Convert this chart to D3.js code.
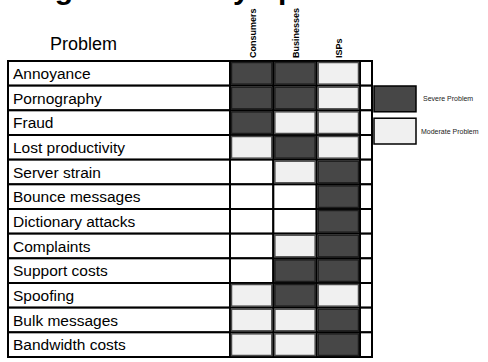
<!DOCTYPE html>
<html>
<head>
<meta charset="utf-8">
<script src="https://cdn.jsdelivr.net/npm/d3@7"></script>
<style>
  html, body { margin: 0; padding: 0; background: #fff; }
  svg { display: block; }
</style>
</head>
<body>
<svg id="chart" width="488" height="362"></svg>
<script>
// Problems caused by spam, rated for each affected group
const problems = [
  "Annoyance", "Pornography", "Fraud", "Lost productivity", "Server strain",
  "Bounce messages", "Dictionary attacks", "Complaints", "Support costs",
  "Spoofing", "Bulk messages", "Bandwidth costs"
];
const groups = ["Consumers", "Businesses", "ISPs"];
const consumerLevels = ["Severe", "Severe", "Severe", "Moderate", "", "", "", "", "", "Moderate", "Moderate", "Moderate"];
const businessLevels = ["Severe", "Severe", "Moderate", "Severe", "Moderate", "", "", "Moderate", "Severe", "Severe", "Moderate", "Moderate"];
const ispLevels = ["Moderate", "Moderate", "Moderate", "Moderate", "Severe", "Severe", "Severe", "Severe", "Severe", "Moderate", "Severe", "Severe"];
const levels = ["Severe", "Moderate"];
const legendLabels = ["Severe Problem", "Moderate Problem"];
const titleText = "Damage Caused by Spam";
const columnTitle = "Problem";

const levelsByGroup = { Consumers: consumerLevels, Businesses: businessLevels, ISPs: ispLevels };
const cells = [];
groups.forEach(g => problems.forEach((p, i) => cells.push({ group: g, problem: p, level: levelsByGroup[g][i] })));

const font = "'Liberation Sans', Arial, sans-serif";
const svg = d3.select("#chart");

const fill = d3.scaleOrdinal().domain(levels).range(["#474747", "#f0f0f0"]);
const edge = d3.scaleOrdinal().domain(levels).range(["#1c1c1c", "#4a4a4a"]);

const y = d3.scaleBand().domain(problems).range([61, 357]);
const x = d3.scaleBand().domain(groups).range([230, 360]);
const labelX0 = 8, labelX1 = 230, spareW = 12;

// Title (runs off the top of the page)
svg.append("text")
  .attr("x", -27).attr("y", -1.5)
  .attr("font-family", font).attr("font-size", 30).attr("font-weight", "bold")
  .text(titleText);

svg.append("text")
  .attr("x", 50).attr("y", 50)
  .attr("font-family", font).attr("font-size", 18)
  .text(columnTitle);

// Column headers, rotated
svg.selectAll("text.col").data(groups).join("text")
  .attr("class", "col")
  .attr("transform", d => `translate(${x(d) + x.bandwidth() / 2 + 4},58) rotate(-90)`)
  .attr("font-family", font).attr("font-size", 9).attr("font-weight", "bold")
  .text(d => d);

// Grid: label cells, group cells and a spare empty column
const grid = svg.append("g").attr("fill", "#fff").attr("stroke", "#000").attr("stroke-width", 2);
grid.selectAll("rect.lab").data(problems).join("rect")
  .attr("x", labelX0).attr("y", d => y(d))
  .attr("width", labelX1 - labelX0).attr("height", y.bandwidth());
grid.selectAll("rect.cell").data(cells).join("rect")
  .attr("x", d => x(d.group)).attr("y", d => y(d.problem))
  .attr("width", x.bandwidth()).attr("height", y.bandwidth());
grid.selectAll("rect.spare").data(problems).join("rect")
  .attr("x", x.range()[1]).attr("y", d => y(d))
  .attr("width", spareW).attr("height", y.bandwidth());

// Severity blocks
svg.append("g").selectAll("rect").data(cells.filter(d => d.level)).join("rect")
  .attr("x", d => x(d.group) + 1.5).attr("y", d => y(d.problem) + 1.5)
  .attr("width", x.bandwidth() - 3).attr("height", y.bandwidth() - 3)
  .attr("fill", d => fill(d.level))
  .attr("stroke", d => edge(d.level)).attr("stroke-width", 1.5);

// Row labels
svg.selectAll("text.row").data(problems).join("text")
  .attr("class", "row")
  .attr("x", 13).attr("y", d => y(d) + y.bandwidth() / 2 + 5.5)
  .attr("font-family", font).attr("font-size", 15.5)
  .text(d => d);

// Legend
const legend = svg.append("g");
const legendY = d3.scaleBand().domain(levels).range([86, 144]).paddingInner(0.2);
legend.selectAll("rect").data(levels).join("rect")
  .attr("x", 374).attr("y", d => legendY(d))
  .attr("width", 42).attr("height", legendY.bandwidth())
  .attr("fill", d => fill(d)).attr("stroke", "#000").attr("stroke-width", 1.5);
legend.selectAll("text").data(levels).join("text")
  .attr("x", d => d === "Severe" ? 423 : 421)
  .attr("y", d => legendY(d) + legendY.bandwidth() / 2 + 2.5)
  .attr("font-family", font).attr("font-size", 7).attr("fill", "#222")
  .text((d, i) => legendLabels[i]);
</script>
</body>
</html>
